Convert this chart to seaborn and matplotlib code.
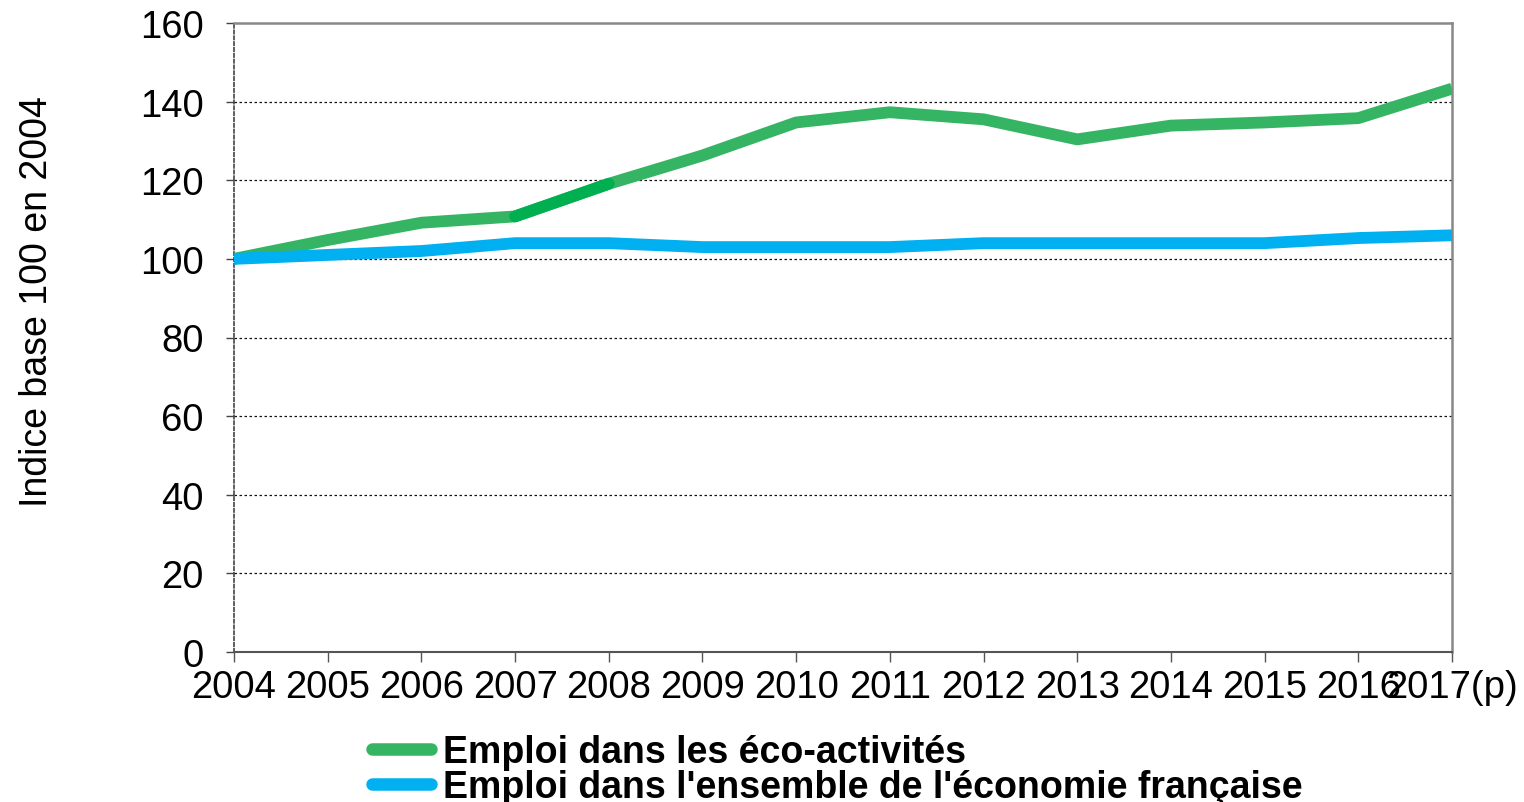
import matplotlib
matplotlib.use("Agg")
import matplotlib.pyplot as plt
import seaborn as sns
import pandas as pd
from matplotlib.lines import Line2D

years = list(range(2004, 2018))
year_labels = [str(y) for y in years[:-1]] + ["2017(p)"]
eco = [100, 104.8, 109.2, 110.8, 119.1, 126.3, 134.7, 137.3, 135.5, 130.4, 133.9, 134.7, 135.8, 143.3]
total = [100, 101, 102, 104, 104, 103, 103, 103, 104, 104, 104, 104, 105.3, 106]
highlight_years = [2007, 2008]
labels = ["Emploi dans les éco-activités", "Emploi dans l'ensemble de l'économie française"]
colors = ["#35B563", "#00B0F0"]
highlight_color = "#00B050"

sns.set_theme(style="white")
plt.rcParams['font.family'] = ['Liberation Sans', 'DejaVu Sans']
plt.rcParams['text.color'] = 'black'
plt.rcParams['axes.labelcolor'] = 'black'
plt.rcParams['xtick.color'] = 'black'
plt.rcParams['ytick.color'] = 'black'

df = pd.DataFrame({"year": years, "eco": eco, "total": total})
hl = df[df["year"].isin(highlight_years)]

fig = plt.figure(figsize=(15.24, 8.03), dpi=100)
ax = fig.add_axes([234/1524, 1-653/803, (1452-234)/1524, (653-24)/803])

for v in range(20, 160, 20):
    ax.axhline(v, color="#111111", lw=0.9, ls=(0, (2, 2)), zorder=0)

lw = 8.5
sns.lineplot(data=df, x="year", y="eco", color=colors[0], lw=lw, ax=ax,
             solid_capstyle="butt", solid_joinstyle="round", zorder=3)
sns.lineplot(data=hl, x="year", y="eco", color=highlight_color, lw=lw, ax=ax,
             solid_capstyle="round", zorder=3)
sns.lineplot(data=df, x="year", y="total", color=colors[1], lw=lw, ax=ax,
             solid_capstyle="butt", solid_joinstyle="round", zorder=4)

ax.set_xlim(2004, 2017)
ax.set_ylim(0, 160)
ax.set_xticks(years)
ax.set_xticklabels(year_labels)
ax.set_yticks(range(0, 161, 20))
ax.tick_params(axis="x", direction="out", length=7, width=1, color="#555555",
               labelsize=27.5, pad=5, bottom=True, labelcolor="black")
ax.tick_params(axis="y", direction="out", length=6, width=1, color="#444444",
               labelsize=27.5, pad=16, left=True, labelcolor="black")
for t in ax.yaxis.get_major_ticks():
    t.tick1line.set_linestyle((0, (1.5, 1.5)))
ax.set_xlabel("")
ax.set_ylabel("Indice base 100 en 2004", fontsize=27, color="black")
ax.yaxis.set_label_coords(-0.147, 0.559)

for s in ["top", "right"]:
    ax.spines[s].set_color("#888888")
    ax.spines[s].set_linewidth(1.8)
ax.spines["bottom"].set_color("#555555")
ax.spines["bottom"].set_linewidth(1.5)
ax.spines["left"].set_color("#444444")
ax.spines["left"].set_linewidth(1.2)
ax.spines["left"].set_linestyle((0, (2, 1.5)))

handles = [Line2D([0], [0], color=c, lw=9, solid_capstyle="round") for c in colors]
fig.legend(handles, labels, loc="lower left", bbox_to_anchor=(0.2345, -0.022),
           frameon=False, prop={"size": 27, "weight": "bold"},
           labelspacing=-0.04, handlelength=1.55, handletextpad=0.33, borderaxespad=0)

fig.savefig("out.png", dpi=100)
